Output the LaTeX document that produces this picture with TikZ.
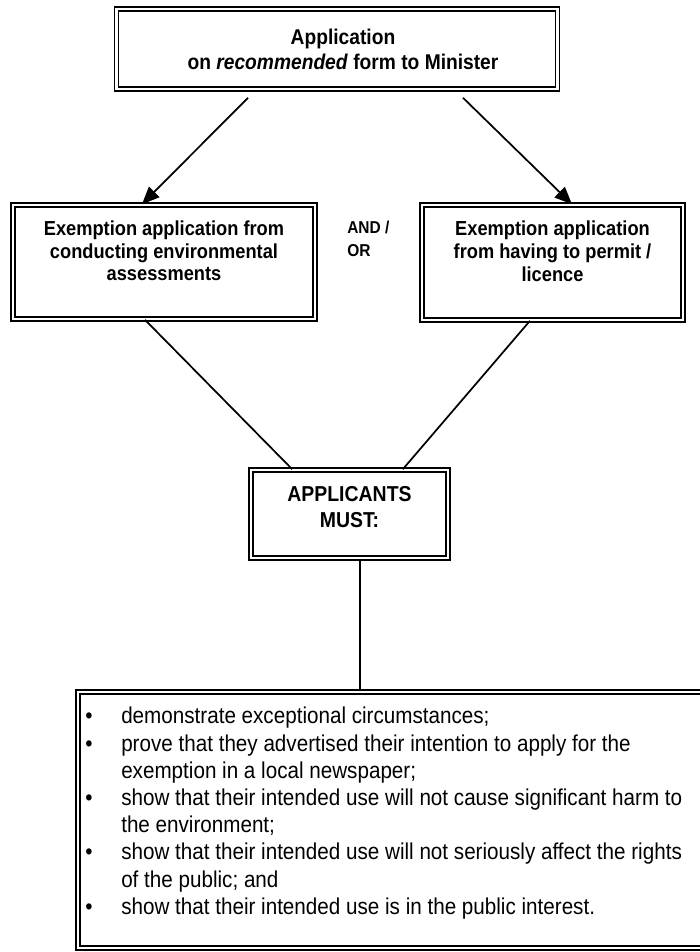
\documentclass[tikz,border=0pt]{standalone}
\usepackage{fontspec}
\setmainfont{Liberation Sans}[FakeStretch=0.9]
\usetikzlibrary{arrows.meta}
\begin{document}
\begin{tikzpicture}[x=0.75pt,y=-0.75pt,
  dbox/.style={draw, double, line width=1.2pt, double distance=1.6pt, inner sep=0pt, align=center},
  conn/.style={line width=1.3pt},
  arr/.style={conn, -{Triangle[length=13pt,width=11pt]}},
  topfont/.style={font=\bfseries\fontsize{16}{18.75}\selectfont},
  midfont/.style={font=\bfseries\fontsize{15.2}{17}\selectfont},
  andfont/.style={font=\bfseries\fontsize{12.9}{17}\selectfont},
  appfont/.style={font=\bfseries\fontsize{16.2}{19.5}\selectfont},
  listfont/.style={font=\fontsize{17.2}{20.4}\selectfont},
]
\useasboundingbox (0,0) rectangle (699,952);
\node[dbox, topfont, minimum width=330.75pt, minimum height=60pt] (top) at (337,49)
  {\hspace*{9pt}Application\\\hspace*{9pt}on \textit{recommended} form to Minister};
\node[dbox, midfont, minimum width=226.5pt, minimum height=85.5pt] (left) at (164,262)
  {Exemption application from\\conducting environmental\\assessments\\ \mbox{}};
\node[dbox, midfont, minimum width=195.75pt, minimum height=86.25pt] (right) at (552.5,262.5)
  {Exemption application\\from having to permit /\\licence\\ \mbox{}};
\node[andfont, anchor=west, align=left, inner sep=0pt] (andor) at (347,239) {AND /\\OR};
\node[dbox, appfont, minimum width=147.75pt, minimum height=66pt] (app) at (349.5,514)
  {APPLICANTS\\MUST:\\[-9pt]\mbox{}};
\node[dbox, minimum width=474pt, minimum height=192pt] (bot) at (394,820) {};
\node[listfont, anchor=north west, align=left, inner sep=0pt] (items) at (85,707)
  {\makebox[27pt][l]{\textbullet}demonstrate exceptional circumstances;\\
   \makebox[27pt][l]{\textbullet}prove that they advertised their intention to apply for the\\
   \hspace*{27pt}exemption in a local newspaper;\\
   \makebox[27pt][l]{\textbullet}show that their intended use will not cause significant harm to\\
   \hspace*{27pt}the environment;\\
   \makebox[27pt][l]{\textbullet}show that their intended use will not seriously affect the rights\\
   \hspace*{27pt}of the public; and\\
   \makebox[27pt][l]{\textbullet}show that their intended use is in the public interest.};
\draw[arr] ([xshift=-66.75pt,yshift=-6pt]top.south) -- ([xshift=-16.5pt]left.north);
\draw[arr] ([xshift=94.5pt,yshift=-6pt]top.south) -- ([xshift=14.6pt]right.north);
\draw[conn] ([xshift=-14.25pt]left.south) -- ([xshift=-43pt]app.north);
\draw[conn] ([xshift=-16.9pt]right.south) -- ([xshift=40pt]app.north);
\draw[conn] ([xshift=7.9pt]app.south) -- ([xshift=7.9pt]app.south |- bot.north);
\end{tikzpicture}
\end{document}
